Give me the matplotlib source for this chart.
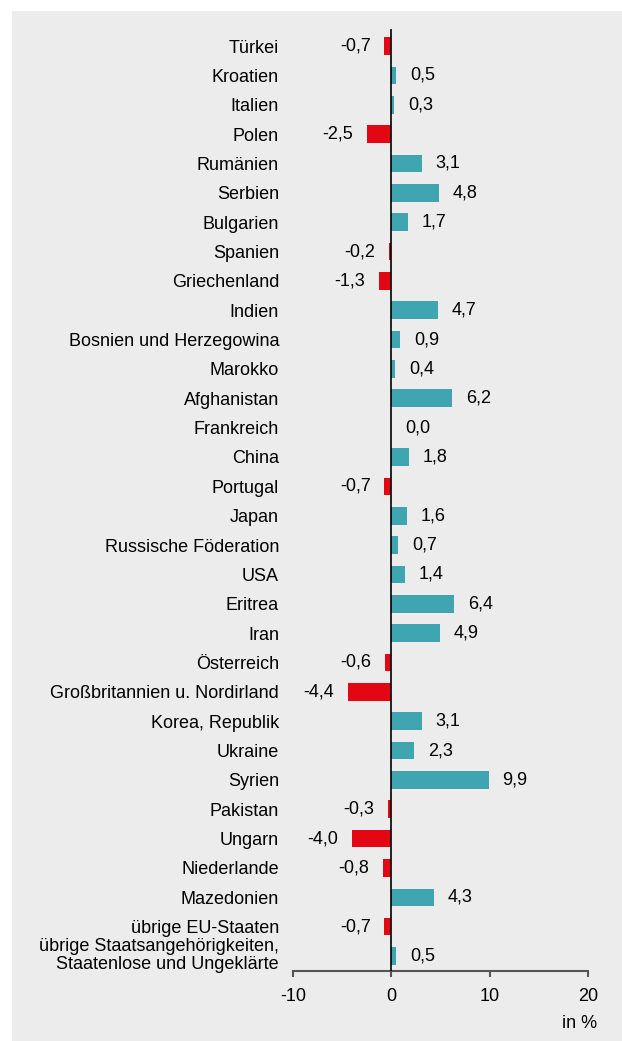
import numpy as np
import matplotlib.pyplot as plt
import matplotlib.transforms as mtrans
from matplotlib.patches import Rectangle

plt.rcParams['font.family'] = ['Liberation Sans', 'DejaVu Sans']

# Veränderung in % nach Staatsangehörigkeit
laender = ['Türkei', 'Kroatien', 'Italien', 'Polen', 'Rumänien', 'Serbien',
           'Bulgarien', 'Spanien', 'Griechenland', 'Indien',
           'Bosnien und Herzegowina', 'Marokko', 'Afghanistan', 'Frankreich',
           'China', 'Portugal', 'Japan', 'Russische Föderation', 'USA',
           'Eritrea', 'Iran', 'Österreich', 'Großbritannien u. Nordirland',
           'Korea, Republik', 'Ukraine', 'Syrien', 'Pakistan', 'Ungarn',
           'Niederlande', 'Mazedonien', 'übrige EU-Staaten',
           'übrige Staatsangehörigkeiten,\nStaatenlose und Ungeklärte']
werte = [-0.7, 0.5, 0.3, -2.5, 3.1, 4.8, 1.7, -0.2, -1.3, 4.7,
         0.9, 0.4, 6.2, 0.0, 1.8, -0.7, 1.6, 0.7, 1.4, 6.4,
         4.9, -0.6, -4.4, 3.1, 2.3, 9.9, -0.3, -4.0, -0.8, 4.3,
         -0.7, 0.5]
xticks = [-10, 0, 10, 20]

TEAL = '#3fa5b0'
RED = '#e30613'
BG = '#ececec'

fig = plt.figure(figsize=(6.22, 10.41), dpi=100)
W, H = 622, 1041
fig.patches.append(Rectangle((12 / W, 0), 1, 1 - 11 / H, transform=fig.transFigure,
                             facecolor=BG, edgecolor='none', zorder=-10))

ax = fig.add_axes([293 / W, 70 / H, (588 - 293) / W, (971 - 29) / H])
ax.set_facecolor('none')

y = np.arange(len(laender))
farben = [RED if v < 0 else TEAL for v in werte]
ax.barh(y, werte, height=0.6, color=farben, zorder=2)
ax.axvline(0, color='black', lw=1.2, zorder=3)

ax.set_xlim(-10, 20)
ax.set_ylim(len(laender) - 1 + 0.51, -0.58)

fs = 13
for i, v in enumerate(werte):
    txt = f'{v:.1f}'.replace('.', ',')
    if v < 0:
        ax.annotate(txt, (v, i), xytext=(-10, 0), textcoords='offset points',
                    ha='right', va='center', fontsize=fs)
    else:
        ax.annotate(txt, (v, i), xytext=(10, 0), textcoords='offset points',
                    ha='left', va='center', fontsize=fs)

ax.set_yticks(y)
ax.set_yticklabels(laender, fontsize=fs, linespacing=1.05)
ax.tick_params(axis='y', length=0, pad=10)
# zweizeiliges Label etwas nach oben
last = ax.get_yticklabels()[-1]
last.set_transform(last.get_transform() + mtrans.ScaledTranslation(0, 3 / 100, fig.dpi_scale_trans))

ax.set_xticks(xticks)
ax.set_xticklabels([str(t) for t in xticks], fontsize=fs)
ax.tick_params(axis='x', direction='out', length=4, width=1.5, color='#555555', pad=8)

for s in ['left', 'right', 'top']:
    ax.spines[s].set_visible(False)
ax.spines['bottom'].set_color('#555555')
ax.spines['bottom'].set_linewidth(1.5)

fig.text(597 / W, 1 - 1024 / H, 'in %', ha='right', va='center', fontsize=fs)

fig.savefig('out.png', dpi=100, facecolor='white')
